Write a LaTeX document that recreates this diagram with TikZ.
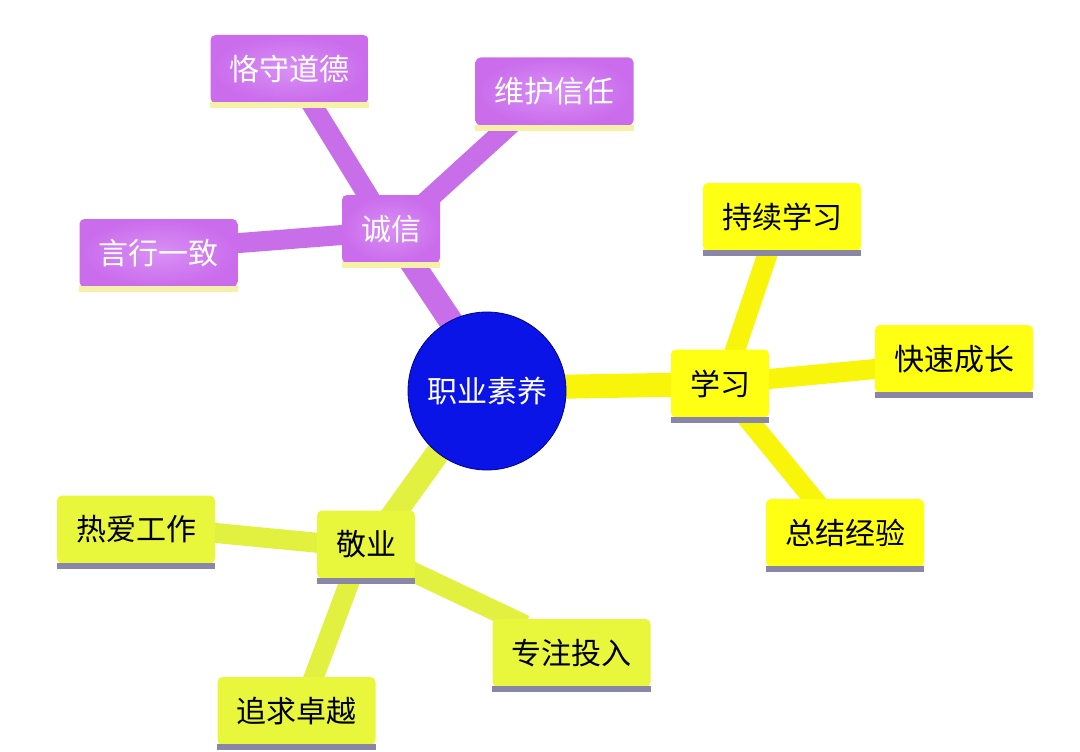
\documentclass[tikz,border=0pt]{standalone}
\usepackage{fontspec}
\setmainfont{Noto Sans CJK SC}
\usetikzlibrary{calc,backgrounds}
\definecolor{pur}{HTML}{D27CF3}
\definecolor{purdark}{HTML}{CA6CEC}
\definecolor{purline}{HTML}{C86EE9}
\definecolor{yel}{HTML}{FFFF14}
\definecolor{yelline}{HTML}{F8F40A}
\definecolor{grn}{HTML}{E8F63C}
\definecolor{grnline}{HTML}{E2F140}
\definecolor{ulp}{HTML}{F6F0A8}
\definecolor{uly}{HTML}{8A86A8}
\definecolor{cblue}{HTML}{0A14E6}
\begin{document}
\begin{tikzpicture}[x=1pt,y=-1pt,
  box/.style={rectangle, rounded corners=5pt, inner sep=0pt,
    font=\fontsize{30}{35}\selectfont, minimum height=68pt},
  leaf/.style={box, minimum width=158pt},
  hub/.style={box, minimum width=98pt},
  pbox/.style={inner color=pur!85!white, outer color=purdark, text=white},
  ybox/.style={fill=yel, text=black},
  gbox/.style={fill=grn, text=black},
  pline/.style={line width=20pt, purline},
  yline/.style={line width=20pt, yelline},
  gline/.style={line width=20pt, grnline},
  trunk/.style={line width=24pt},
  ulpur/.style={fill=ulp},
  ulgray/.style={fill=uly}
]
\useasboundingbox (0,0) rectangle (1080,752);

% centre
\node[circle, fill=cblue, draw=blue!55!black, line width=0.8pt, minimum size=158pt,
  inner sep=0pt, text=white, font=\fontsize{30}{35}\selectfont] (c) at (487,391) {职业素养};

% 诚信 branch
\node[hub, pbox] (cx) at (391,229) {诚信};
\node[leaf, pbox] (cp1) at (289.5,69) {恪守道德};
\node[leaf, pbox] (cp2) at (554.5,91.5) {维护信任};
\node[leaf, pbox] (cp3) at (158.5,253) {言行一致};

% 学习 branch
\node[hub, ybox] (xx) at (720,383.5) {学习};
\node[leaf, ybox] (cx1) at (782,217) {持续学习};
\node[leaf, ybox] (cx2) at (954,359) {快速成长};
\node[leaf, ybox] (cx3) at (845,533) {总结经验};

% 敬业 branch
\node[hub, gbox] (jy) at (366,544.5) {敬业};
\node[leaf, gbox] (jg1) at (136,529.5) {热爱工作};
\node[leaf, gbox] (jg2) at (571.5,653) {专注投入};
\node[leaf, gbox] (jg3) at (296.5,711) {追求卓越};

% underline strips
\foreach \n in {cx,cp1,cp2,cp3}
  \fill[ulpur] ([yshift=1pt]\n.south west) rectangle ([yshift=-5pt]\n.south east);
\foreach \n in {xx,cx1,cx2,cx3,jy,jg1,jg2,jg3}
  \fill[ulgray] ([yshift=1pt]\n.south west) rectangle ([yshift=-5pt]\n.south east);

\begin{pgfonlayer}{background}
  % purple
  \draw[pline, trunk] ($(c)+(-27,-56)$) -- ($(cx)+(9,16)$);
  \draw[pline] ($(cx)+(-13,-17)$) -- ($(cp1)+(13.5,21)$);
  \draw[pline] ($(cx)+(29,-22)$) -- ($(cp2)+(-32.5,22.5)$);
  \draw[pline] ($(cx)+(-31,4.6)$) -- ($(cp3)+(61.5,-8.5)$);
  % yellow
  \draw[yline, trunk] ($(c)+(60,-4)$) -- ($(xx)+(-30,1)$);
  \draw[yline] ($(xx)+(10,-18.5)$) -- ($(cx1)+(-11,27)$);
  \draw[yline] ($(xx)+(30,-2.7)$) -- ($(cx2)+(-64,8.6)$);
  \draw[yline] ($(xx)+(23,29.5)$) -- ($(cx3)+(-25,-26)$);
  % green
  \draw[gline, trunk] ($(c)+(-42,52)$) -- ($(jy)+(22,-22.5)$);
  \draw[gline] ($(jy)+(-31,0)$) -- ($(jg1)+(64,2)$);
  \draw[gline] ($(jy)+(29,19)$) -- ($(jg2)+(-46.5,-28)$);
  \draw[gline] ($(jy)+(-12,25.5)$) -- ($(jg3)+(12.5,-21)$);
\end{pgfonlayer}
\end{tikzpicture}
\end{document}
